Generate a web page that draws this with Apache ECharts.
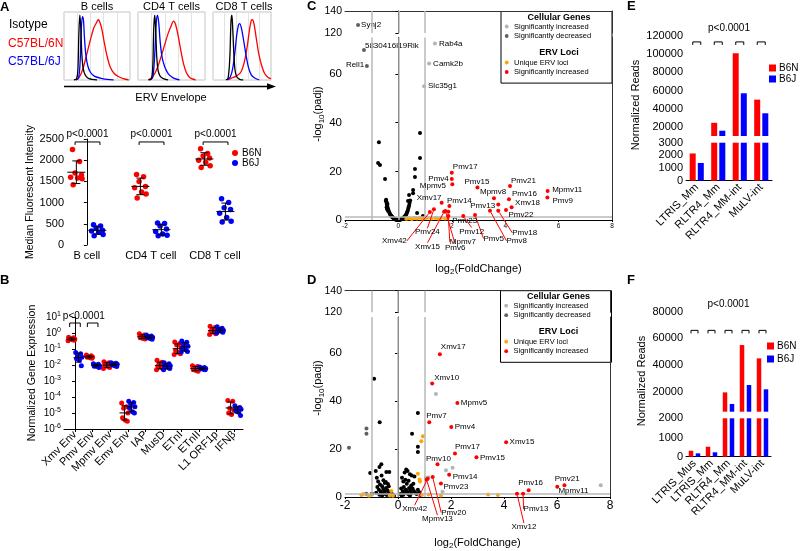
<!DOCTYPE html>
<html><head><meta charset="utf-8">
<script src="https://cdn.jsdelivr.net/npm/echarts@6/dist/echarts.min.js"></script>
<style>html,body{margin:0;padding:0;background:#fff}#c{width:800px;height:551px}</style>
</head><body><div id="c"></div><script>
// ================= DATA =================
const HIST_TITLES = ['B cells', 'CD4 T cells', 'CD8 T cells'];
const HIST_ISOTYPE = [
  [[15,0],[19,2],[21,15],[22.5,70],[24,100],[25.5,80],[27,40],[29,18],[32,8],[36,3],[42,1],[50,0]],
  [[16,0],[20,2],[22,20],[23.5,80],[25,100],[26.5,75],[28,35],[30,15],[33,6],[38,2],[45,0]],
  [[22,0],[26,3],[29,35],[31,90],[32.5,100],[34,80],[36,40],[38,15],[41,5],[46,1],[52,0]]
];
const HIST_B6J = [
  [[18,0],[22,3],[24.5,30],[26,75],[28,98],[29.5,92],[31,65],[33,40],[36,22],[40,12],[46,6],[55,3],[65,1],[75,0]],
  [[18,0],[22,4],[25,40],[27,85],[29,100],[31,88],[33,60],[36,35],[40,20],[45,10],[50,5],[55,2],[62,0]],
  [[25,0],[30,5],[34,18],[38,45],[41,70],[44,85],[46,87],[49,80],[53,60],[57,38],[61,20],[66,8],[72,3],[80,0]]
];
const HIST_B6N = [
  [[18,0],[22,3],[26,10],[30,22],[35,42],[40,62],[45,80],[49,88],[52,93],[54,90],[57,80],[61,58],[65,38],[70,20],[76,10],[83,5],[90,2],[98,0]],
  [[15,0],[20,3],[25,10],[30,22],[35,38],[40,55],[45,72],[50,85],[53,91],[56,86],[60,68],[64,45],[68,25],[72,12],[76,5],[80,2],[86,0]],
  [[25,0],[32,3],[40,6],[48,12],[54,28],[59,52],[63,78],[66,92],[68,93],[71,85],[75,62],[79,40],[84,22],[89,10],[95,4],[100,2]]
];

const A_CATS = ['B cell', 'CD4 T cell', 'CD8 T cell'];
const A_B6N = [[2250,1970,1700,1650,1600,1580,1560,1420],[1660,1610,1500,1380,1350,1250,1200,1110],[2270,2160,2100,2050,2000,1950,1870,1830]];
const A_B6J = [[480,450,400,350,330,300,250,220],[520,510,450,380,320,260,230,220],[1090,1000,880,840,750,650,560,540]];

const B_CATS = ['Xmv Env','Pmv Env','Mpmv Env','Emv Env','IAP','MusD','ETnI','ETnII','L1 ORF1p','IFNβ'];
const B_B6N = [
  [0.55,0.5,0.45,0.42,0.4,0.38,0.35,0.33],
  [0.042,0.038,0.035,0.032,0.03,0.028,0.026],
  [0.016,0.014,0.012,0.011,0.009,0.008,0.007,0.006],
  [4.2e-5,2.5e-5,2e-5,1e-5,5e-6,3.5e-6,3e-6],
  [0.9,0.75,0.65,0.55,0.5,0.45,0.42],
  [0.02,0.015,0.012,0.01,0.008,0.007,0.006,0.005],
  [0.27,0.22,0.18,0.12,0.08,0.06,0.05,0.045],
  [0.009,0.008,0.007,0.006,0.005,0.0045,0.004],
  [2.6,2.2,1.8,1.5,1.3,1.1,0.9,0.8],
  [6e-5,5.5e-5,2e-5,1.5e-5,1e-5,8e-6]
];
const B_B6J = [
  [0.06,0.05,0.04,0.03,0.025,0.02,0.009],
  [0.012,0.011,0.01,0.009,0.0085,0.008,0.007],
  [0.014,0.013,0.012,0.011,0.01,0.009,0.008],
  [5.5e-5,4.5e-5,3.5e-5,2.5e-5,2e-5,1.2e-5,1e-5],
  [0.75,0.65,0.6,0.55,0.5,0.45,0.4],
  [0.014,0.012,0.01,0.009,0.008,0.007,0.006,0.005],
  [0.32,0.26,0.2,0.15,0.12,0.09,0.07,0.065],
  [0.0075,0.007,0.0065,0.006,0.0058,0.0055,0.005],
  [2.5,2.0,1.7,1.5,1.4,1.3,1.1,1.0],
  [2.8e-5,2.2e-5,2e-5,1.7e-5,1.4e-5,1.1e-5,7e-6]
];
const B_TICKS = [1e-6,1e-5,1e-4,1e-3,1e-2,1e-1,1,10];

const C_NS = [
 [-0.47,7.9],[-0.46,8.3],[-0.45,7.6],[-0.44,7.0],[-0.44,5.2],[-0.43,6.4],[-0.43,4.5],[-0.42,5.8],[-0.41,5.3],[-0.41,6.6],[-0.40,4.8],[-0.39,3.8],[-0.38,4.2],[-0.36,3.6],[-0.34,3.1],[-0.32,2.6],[-0.30,2.2],[-0.28,1.9],[-0.26,1.6],[-0.24,1.3],[-0.22,1.1],[-0.20,0.9],[-0.18,0.7],[-0.16,0.55],[-0.14,0.42],[-0.12,0.3],[-0.10,0.22],[-0.08,0.15],[-0.06,0.09],[-0.04,0.05],[-0.02,0.02],[0.00,0.01],
 [0.02,0.02],[0.04,0.06],[0.06,0.11],[0.08,0.18],[0.10,0.26],[0.12,0.36],[0.14,0.48],[0.16,0.62],[0.18,0.78],[0.20,0.98],[0.22,1.2],[0.24,1.45],[0.26,1.75],[0.28,2.1],[0.30,2.5],[0.32,3.0],[0.34,3.6],[0.36,4.3],[0.38,5.1],[0.40,6.0],[0.42,7.0],[0.44,8.0],
 [0.81,35.8],[0.81,25.5],[-0.73,32.0],[-0.76,23.4],[-0.69,22.6],[-0.50,16.8],[0.62,21.0],[0.62,17.7],[0.55,12.3],[0.55,11.0],[0.40,10.3],[0.36,7.8],[0.70,2.9],[0.92,1.6]
];
const C_DEC = [['Synj2',-1.51,127.3],['5830416I19Rik',-1.29,69.9],['Rell1',-1.18,63.3]];
const C_INC = [['Rab4a',1.37,72.5],['Camk2b',1.15,64.3],['Slc35g1',0.96,55.0]];
const C_UNIQUE = [[0.3,0.5],[0.4,0.7],[0.5,0.4],[0.6,0.8],[0.7,0.6],[0.8,0.9],[0.9,0.5],[1.0,0.7],[1.1,0.9],[1.25,0.6],[1.4,0.8],[1.5,0.5],[1.6,0.9],[1.75,0.6],[1.85,0.8]];
const C_SIG = [['Pmv17',2.0,19.4],['Pmv4',2.0,16.8],['Mpmv5',2.02,14.7],['Pmv15',2.96,13.4],['Mpmv8',3.58,8.9],['Pmv21',4.18,14.0],['Pmv16',4.14,8.5],['Xmv18',4.24,5.2],['Pmv22',4.03,4.1],['Mpmv11',5.59,11.9],['Pmv9',5.58,9.2],['Pmv13',3.74,6.4],['Pmv18',3.74,3.8],['Pmv8',3.43,3.8],['Pmv5',2.87,2.05],['Pmv12',2.43,1.6],['Pmv23',1.87,3.4],['Pmv14',1.91,5.75],['Xmv17',1.62,7.1],['Xmv42',1.18,3.3],['Pmv24',1.33,4.4],['Xmv15',1.71,3.4],['Pmv6',1.76,3.7],['Mpmv7',1.87,1.6]];

const D_NS = [
 [-1.05,10.0],[-0.84,10.8],[-0.70,12.5],[-0.63,13.6],[-0.62,9.0],[-0.44,10.4],[-0.33,10.4],[-0.80,8.0],[-0.78,4.2],[-0.75,6.5],[-0.72,3.0],[-0.68,5.2],[-0.65,2.2],[-0.60,4.5],[-0.58,1.5],[-0.56,3.3],[-0.55,7.0],[-0.52,2.5],[-0.50,5.8],[-0.48,1.2],[-0.46,6.2],[-0.45,3.8],[-0.42,0.8],[-0.40,2.8],[-0.38,5.4],[-0.36,1.8],[-0.35,4.5],[-0.30,2.0],[-0.28,0.6],[-0.25,1.5],[-0.20,1.0],[-0.15,0.4],[-0.82,1.8],[-0.70,0.9],[-0.60,0.5],[-0.98,1.4],
 [0.10,1.2],[0.12,3.5],[0.14,0.6],[0.15,8.0],[0.18,2.5],[0.20,6.5],[0.20,0.9],[0.22,4.2],[0.25,10.2],[0.26,1.8],[0.28,7.2],[0.30,3.0],[0.31,11.5],[0.33,5.5],[0.35,2.2],[0.36,10.8],[0.38,1.2],[0.40,6.8],[0.42,3.8],[0.45,9.5],[0.45,0.5],[0.46,2.6],[0.50,4.8],[0.50,1.5],[0.52,9.0],[0.55,3.5],[0.58,5.5],[0.60,2.5],[0.62,8.5],[0.65,1.8],[0.70,1.2],[0.75,3.0],[0.80,2.0],[0.85,0.8],
 [-0.90,49.3],[0.75,35.0],[-0.69,31.1],[0.53,26.4],[0.75,20.9],[0.75,18.8]
];
const D_DEC = [[-1.19,28.5],[-1.19,26.4],[-1.85,20.5],[-1.19,1.4]];
const D_INC = [[1.43,42.9],[1.81,11.1],[2.06,12.2],[1.68,2.2],[7.65,4.9],[1.05,8.0],[1.15,8.2]];
const D_UNIQUE = [[0.94,25.3],[0.88,23.2],[0.75,9.7],[0.81,7.3],[0.83,6.5],[-0.25,2.5],[-1.38,0.8],[-1.31,1.2],[-1.10,0.5],[-0.31,0.6],[-0.19,0.5],[1.62,0.6],[3.40,1.0],[3.77,0.8],[1.15,1.0],[0.9,0.8]];
const D_SIG = [['Xmv17',1.58,59.5],['Xmv10',1.29,47.3],['Mpmv5',2.24,39.2],['Pmv7',1.18,31.1],['Pmv4',2.01,29.2],['Xmv15',4.08,22.8],['Pmv17',2.15,18.1],['Pmv15',2.96,16.6],['Pmv10',1.49,13.6],['Pmv14',1.93,9.3],['Pmv23',1.62,5.6],['Xmv42',1.12,7.6],['Mpmv13',1.08,7.2],['Pmv20',1.31,8.3],['Xmv12',4.49,1.4],['Pmv13',4.72,1.4],['Pmv16',4.93,2.8],['Pmv21',6.01,4.3],['Mpmv11',6.28,4.9]];

const VOLC_Y_LOW_TICKS = [0,20,40,60];
const VOLC_Y_HIGH_TICKS = [120,140];
const VOLC_GUIDES_X = [-1,0,1];
const VOLC_GUIDE_Y = 1.3;

const E_CATS = ['LTRIS_Mm','RLTR4_Mm','RLTR4_MM-int','MuLV-int'];
const E_B6N = [2150, 24500, 101000, 50000];
const E_B6J = [1400, 15800, 57000, 35000];
const E_TICKS_HIGH = [20000,40000,60000,80000,100000,120000];
const E_TICKS_LOW = [0,1000,2000,3000];

const F_CATS = ['LTRIS_Mus','LTRIS_Mm','RLTR4_Mm','RLTR4_MM-int','MuLV-int'];
const F_B6N = [310, 520, 19500, 55000, 45000];
const F_B6J = [175, 230, 10800, 25000, 21800];
const F_TICKS_HIGH = [20000,40000,60000,80000];
const F_TICKS_LOW = [0,1000,2000];

const P_TEXT = 'p<0.0001';

// ================= STYLE / LAYOUT =================
const FONT = '"Liberation Sans", Arial, Helvetica, sans-serif';
const RED = '#ff0000', BLUE = '#0000ff', ORANGE = '#ffa500', LGRAY = '#b4b4b4', DGRAY = '#606060';
const A_JITTER = [-0.06,0.05,-0.02,0.08,-0.09,0.02,0.09,-0.05];
const B_JITTER = [-0.16,0.12,-0.05,0.19,-0.11,0.05,0.16,-0.19];

const C_LABEL_OFFSET = {
 'Synj2':[3,0],'5830416I19Rik':[1,-4],'Rell1':[-21,-1],'Rab4a':[4,0],'Camk2b':[4,0],'Slc35g1':[4,0],
 'Pmv17':[1,-5.5],'Pmv4':[-23.5,0],'Mpmv5':[-32.5,1.5],'Pmv15':[-13,-6],'Mpmv8':[-14,-6.5],'Pmv21':[1,-5.5],'Pmv16':[3,-6],'Xmv18':[3.5,-5],'Pmv22':[2.5,5],'Mpmv11':[4.5,-1.5],'Pmv9':[5,3],'Pmv13':[-28,1.5],'Pmv14':[-2.5,-5.5],'Xmv17':[-25,-5],'Pmv23':[4,9],
 'Pmv18':[14,22],'Pmv8':[16.5,30],'Pmv5':[8.5,23.5],'Pmv12':[-4,15.5],'Xmv42':[-48,29],'Pmv24':[-19,23],'Xmv15':[-29,35],'Pmv6':[-0.5,37],'Mpmv7':[1.5,26]
};
const C_LEADERS = ['Pmv18','Pmv8','Pmv5','Pmv12','Xmv42','Pmv24','Xmv15','Pmv6','Mpmv7'];
const D_LABEL_OFFSET = {
 'Xmv17':[1,-7],'Xmv10':[2,-5.5],'Mpmv5':[3.5,0],'Pmv7':[-3,-7],'Pmv4':[3.5,0],'Xmv15':[3.5,0],'Pmv17':[0,-6.5],'Pmv15':[3.5,0.5],'Pmv10':[-11.5,-5.5],'Pmv14':[3.5,2],'Pmv23':[2.5,3.5],'Pmv16':[-10.5,-7],'Pmv21':[-2.5,-8],'Mpmv11':[-6,6],
 'Xmv42':[-25.5,30.5],'Mpmv13':[-4.5,39.5],'Pmv20':[8.5,35.5],'Xmv12':[-5.5,33.5],'Pmv13':[0.5,15.5]
};
const D_LEADERS = ['Xmv42','Mpmv13','Pmv20','Xmv12','Pmv13'];

const grids = [], xAxes = [], yAxes = [], series = [];
const addGrid = g => (grids.push(g), grids.length - 1);
const addX = a => (xAxes.push(a), xAxes.length - 1);
const addY = a => (yAxes.push(a), yAxes.length - 1);
const BLK = {lineStyle:{color:'#000', width:1}};
const NOSPLIT = {show:false};
const numFmt = v => String(v);

// ---------- Panel A histograms ----------
const HIST_BOX = [[64,66],[138,67],[213,58]];
HIST_TITLES.forEach((t, i) => {
  const g = addGrid({left:HIST_BOX[i][0], top:12, width:HIST_BOX[i][1], height:68, show:true, borderColor:'#c4c4c4', borderWidth:1, backgroundColor:'transparent'});
  const xa = addX({type:'value', gridIndex:g, min:0, max:100, interval:20, axisLine:{show:false}, axisTick:{show:false}, axisLabel:{show:false}, splitLine:{show:true, lineStyle:{color:'#e2e2e2', width:1}}});
  const ya = addY({type:'value', gridIndex:g, min:0, max:105, axisLine:{show:false}, axisTick:{show:false}, axisLabel:{show:false}, splitLine:NOSPLIT});
  [[HIST_B6N[i], RED], [HIST_B6J[i], BLUE], [HIST_ISOTYPE[i], '#000']].forEach(([d, c]) => {
    series.push({type:'line', xAxisIndex:xa, yAxisIndex:ya, data:d, smooth:0.35, symbol:'none', silent:true, lineStyle:{color:c, width:1.3}});
  });
});

// ---------- Panel A MFI ----------
const gA = addGrid({left:67, top:139, width:178, height:106});
const xA = addX({type:'value', gridIndex:gA, min:-0.31, max:2.47, axisLine:{show:false}, axisTick:{show:false}, splitLine:NOSPLIT,
  axisLabel:{customValues:A_CATS.map((c,i)=>i), formatter:v=>A_CATS[Math.round(v)], fontSize:11, color:'#000', margin:5}});
const yA = addY({type:'value', gridIndex:gA, min:0, max:2500, interval:500, axisLine:BLK, axisTick:{length:3, lineStyle:{color:'#000'}}, splitLine:NOSPLIT,
  axisLabel:{fontSize:11, color:'#000', margin:3, formatter:numFmt},
  name:'Median Fluorescent Intensity', nameLocation:'middle', nameGap:30, nameTextStyle:{fontSize:10.5, color:'#000'}});
const A_OFF = 0.164;
function meanSd(arr){ const m = arr.reduce((a,b)=>a+b,0)/arr.length; const s = Math.sqrt(arr.reduce((a,b)=>a+(b-m)*(b-m),0)/(arr.length-1)); return [m,s]; }
function errRender(mw, cw){
  return (p, api) => {
    const x = api.value(0), m = api.value(1), lo = api.value(2), hi = api.value(3);
    const pm = api.coord([x,m]), pl = api.coord([x,lo]), ph = api.coord([x,hi]);
    const ln = (x1,y1,x2,y2) => ({type:'line', shape:{x1,y1,x2,y2}, style:{stroke:'#000', lineWidth:1}});
    return {type:'group', children:[ln(pm[0]-mw,pm[1],pm[0]+mw,pm[1]), ln(pl[0],pl[1],ph[0],ph[1]), ln(pl[0]-cw,pl[1],pl[0]+cw,pl[1]), ln(ph[0]-cw,ph[1],ph[0]+cw,ph[1])]};
  };
}
[[A_B6N, RED, -A_OFF, 'B6N'], [A_B6J, BLUE, A_OFF, 'B6J']].forEach(([groups, col, off, nm]) => {
  const pts = [], errs = [];
  groups.forEach((arr, ci) => {
    arr.forEach((v, j) => pts.push([ci + off + A_JITTER[j % A_JITTER.length], v]));
    const [m, s] = meanSd(arr); errs.push([ci + off, m, m - s, m + s]);
  });
  series.push({type:'scatter', name:nm, xAxisIndex:xA, yAxisIndex:yA, data:pts, symbolSize:5.5, itemStyle:{color:col, opacity:1}, silent:true, z:2});
  series.push({type:'custom', xAxisIndex:xA, yAxisIndex:yA, data:errs, encode:{x:0, y:1}, renderItem:errRender(9,4), silent:true, z:3});
});
const A_BRACKET_Y = 2430;
series.push({type:'custom', xAxisIndex:xA, yAxisIndex:yA, silent:true, z:4, clip:false, data:A_CATS.map((c,i)=>[i, A_BRACKET_Y]), encode:{x:0,y:1},
  renderItem:(p, api) => {
    const i = api.value(0), y = api.value(1);
    const l = api.coord([i - A_OFF - 0.02, y]), r = api.coord([i + A_OFF + 0.04, y]);
    return {type:'group', children:[
      {type:'polyline', shape:{points:[[l[0],l[1]+3],[l[0],l[1]],[r[0],r[1]],[r[0],r[1]+3]]}, style:{stroke:'#000', lineWidth:1, fill:null}},
      {type:'text', x:(l[0]+r[0])/2, y:l[1]-3, style:{text:P_TEXT, fontSize:10, fontFamily:FONT, fill:'#000', align:'center', verticalAlign:'bottom'}}
    ]};
  }});

// ---------- Panel B ----------
const gB = addGrid({left:64, top:317, width:179, height:112});
const xB = addX({type:'value', gridIndex:gB, min:-0.62, max:9.5, axisLine:BLK, splitLine:NOSPLIT,
  axisTick:{customValues:B_CATS.map((c,i)=>i), length:3, lineStyle:{color:'#000'}},
  axisLabel:{customValues:B_CATS.map((c,i)=>i), formatter:v=>B_CATS[Math.round(v)], rotate:45, fontSize:11, color:'#000', margin:4}});
const yB = addY({type:'log', gridIndex:gB, logBase:10, min:1e-6, max:10, axisLine:BLK, splitLine:NOSPLIT,
  axisTick:{customValues:B_TICKS, length:3, lineStyle:{color:'#000'}},
  axisLabel:{customValues:B_TICKS, fontSize:10, color:'#000', margin:3, formatter:v=>'10{s|' + Math.round(Math.log10(v)) + '}', rich:{s:{fontSize:7, padding:[0,0,6,0]}}},
  minorTick:{show:false},
  name:'Normalized Gene Expression', nameLocation:'middle', nameGap:26, nameTextStyle:{fontSize:10.5, color:'#000'}});
const B_OFF = 0.2;
[[B_B6N, RED, -B_OFF], [B_B6J, BLUE, B_OFF]].forEach(([groups, col, off]) => {
  const pts = [], errs = [];
  groups.forEach((arr, ci) => {
    arr.forEach((v, j) => pts.push([ci + off + B_JITTER[j % B_JITTER.length], v]));
    const [m, s] = meanSd(arr.map(Math.log10)); errs.push([ci + off, Math.pow(10,m), Math.pow(10,m-s), Math.pow(10,m+s)]);
  });
  series.push({type:'scatter', xAxisIndex:xB, yAxisIndex:yB, data:pts, symbolSize:5, itemStyle:{color:col, opacity:1}, silent:true, z:2});
  series.push({type:'custom', xAxisIndex:xB, yAxisIndex:yB, data:errs, encode:{x:0, y:1}, renderItem:errRender(5,3), silent:true, z:3});
});
const B_BRACKET_Y = 4.2, B_BRACKET_CATS = [0,1];
series.push({type:'custom', xAxisIndex:xB, yAxisIndex:yB, silent:true, z:4, clip:false, data:B_BRACKET_CATS.map(i=>[i, B_BRACKET_Y]), encode:{x:0,y:1},
  renderItem:(p, api) => {
    const i = api.value(0), y = api.value(1);
    const l = api.coord([i - 0.3, y]), r = api.coord([i + 0.3, y]);
    const kids = [{type:'polyline', shape:{points:[[l[0],l[1]+4],[l[0],l[1]],[r[0],r[1]],[r[0],r[1]+4]]}, style:{stroke:'#000', lineWidth:1, fill:null}}];
    if (p.dataIndex === 0) {
      const r2 = api.coord([B_BRACKET_CATS[1], y]);
      kids.push({type:'text', x:(api.coord([i,y])[0] + r2[0])/2, y:l[1]-2, style:{text:P_TEXT, fontSize:10, fontFamily:FONT, fill:'#000', align:'center', verticalAlign:'bottom'}});
    }
    return {type:'group', children:kids};
  }});

// ---------- Panels C & D (volcano, broken y axis) ----------
function makeVolcano(cfg){
  const gT = addGrid({left:cfg.left, top:cfg.topT, width:cfg.width, height:cfg.hT});
  const gL = addGrid({left:cfg.left, top:cfg.topL, width:cfg.width, height:cfg.hL});
  const xT = addX({type:'value', gridIndex:gT, min:-2, max:8, position:'top', axisLine:{lineStyle:{color:'#333', width:1}}, axisTick:{show:false}, axisLabel:{show:false}, splitLine:NOSPLIT});
  const yT = addY({type:'value', gridIndex:gT, min:120, max:140, axisLine:BLK, splitLine:NOSPLIT,
    axisTick:{customValues:VOLC_Y_HIGH_TICKS, length:3, lineStyle:{color:'#000'}},
    axisLabel:{customValues:VOLC_Y_HIGH_TICKS, fontSize:10.5, color:'#000', margin:3, formatter:numFmt}});
  addY({type:'value', gridIndex:gT, min:120, max:140, position:'right', axisLine:{lineStyle:{color:'#333', width:1}}, axisTick:{show:false}, axisLabel:{show:false}, splitLine:NOSPLIT});
  const xL = addX({type:'value', gridIndex:gL, min:-2, max:8, interval:2, axisLine:BLK, splitLine:NOSPLIT,
    axisTick:{length:2, lineStyle:{color:'#000'}},
    axisLabel:{fontSize:cfg.xFont, color:'#000', margin:3, formatter:numFmt},
    name:'log{s|2}(FoldChange)', nameLocation:'middle', nameGap:cfg.xNameGap,
    nameTextStyle:{fontSize:11, color:'#000', rich:{s:{fontSize:8, padding:[7,0,0,0]}}}});
  const yL = addY({type:'value', gridIndex:gL, min:0, max:75, axisLine:BLK, splitLine:NOSPLIT,
    axisTick:{customValues:VOLC_Y_LOW_TICKS, length:3, lineStyle:{color:'#000'}},
    axisLabel:{customValues:VOLC_Y_LOW_TICKS, fontSize:11.5, color:'#000', margin:3, formatter:numFmt}});
  addY({type:'value', gridIndex:gL, min:0, max:75, position:'right', axisLine:{lineStyle:{color:'#333', width:1}}, axisTick:{show:false}, axisLabel:{show:false}, splitLine:NOSPLIT});
  const guideStyle = {color:'#b9b9b9', width:1.5, type:'solid'};
  series.push({type:'scatter', xAxisIndex:xT, yAxisIndex:yT, data:[], silent:true, z:1,
    markLine:{silent:true, symbol:'none', label:{show:false}, lineStyle:guideStyle, animation:false, data:VOLC_GUIDES_X.map(v=>({xAxis:v}))}});
  series.push({type:'scatter', xAxisIndex:xL, yAxisIndex:yL, data:[], silent:true, z:1,
    markLine:{silent:true, symbol:'none', label:{show:false}, lineStyle:guideStyle, animation:false, data:VOLC_GUIDES_X.map(v=>({xAxis:v})).concat([{yAxis:VOLC_GUIDE_Y}])}});
  return {top:[xT,yT], low:[xL,yL], split:100};
}
function toItems(list){ return list.map(it => typeof it[0] === 'string' ? {name:it[0], value:[it[1], it[2]]} : {name:'', value:[it[0], it[1]]}); }
function addLayer(V, list, color, size, z, offsets, leaders){
  const all = toItems(list);
  [[all.filter(d => d.value[1] >= V.split), V.top], [all.filter(d => d.value[1] < V.split), V.low]].forEach(([items, ax]) => {
    const mk = (its, lead) => {
      if (!its.length) return;
      const s = {type:'scatter', xAxisIndex:ax[0], yAxisIndex:ax[1], symbolSize:size, z, silent:true, itemStyle:{color, opacity:1}, data:its};
      if (offsets) {
        s.label = {show:true, position:'right', distance:2, formatter:'{b}', fontSize:8, color:'#000', fontFamily:FONT};
        s.labelLayout = p => { const o = offsets[its[p.dataIndex].name] || [4,0]; return {dx:o[0] - size/2 - 2, dy:o[1]}; };
        s.labelLine = {show:lead, lineStyle:{color:RED, width:1}};
      }
      series.push(s);
    };
    if (offsets && leaders) { mk(items.filter(d => !leaders.includes(d.name)), false); mk(items.filter(d => leaders.includes(d.name)), true); }
    else mk(items, false);
  });
}
const VC = makeVolcano({left:345, width:267, topT:11, hT:22, topL:37.5, hL:182.5, xFont:6.5, xNameGap:41});
addLayer(VC, C_NS, '#000', 4, 2);
addLayer(VC, C_DEC, DGRAY, 4, 3, C_LABEL_OFFSET);
addLayer(VC, C_INC, LGRAY, 4, 3, C_LABEL_OFFSET);
addLayer(VC, C_UNIQUE, ORANGE, 4, 4);
addLayer(VC, C_SIG, RED, 4, 5, C_LABEL_OFFSET, C_LEADERS);
const VD = makeVolcano({left:345, width:265, topT:290.7, hT:21.6, topL:317, hL:180.7, xFont:12, xNameGap:38});
addLayer(VD, D_NS, '#000', 4, 2);
addLayer(VD, D_DEC, DGRAY, 4, 3);
addLayer(VD, D_INC, LGRAY, 4, 3);
addLayer(VD, D_UNIQUE, ORANGE, 4, 4);
addLayer(VD, D_SIG, RED, 4, 5, D_LABEL_OFFSET, D_LEADERS);

// ---------- Panels E & F (broken bar charts) ----------
function makeBroken(cfg){
  const gT = addGrid({left:cfg.left, top:cfg.topT, width:cfg.width, height:cfg.hT});
  const gL = addGrid({left:cfg.left, top:cfg.topL, width:cfg.width, height:cfg.hL});
  const xT = addX({type:'category', gridIndex:gT, data:cfg.cats, show:false});
  const yT = addY({type:'value', gridIndex:gT, min:cfg.minT, max:cfg.maxT, startValue:cfg.minT, axisLine:BLK, splitLine:NOSPLIT,
    axisTick:{customValues:cfg.ticksT, length:3, lineStyle:{color:'#000'}},
    axisLabel:{customValues:cfg.ticksT, fontSize:11, color:'#000', margin:3, formatter:numFmt}});
  const xL = addX({type:'category', gridIndex:gL, data:cfg.cats, axisLine:BLK,
    axisTick:{alignWithLabel:true, length:3, lineStyle:{color:'#000'}},
    axisLabel:{interval:0, rotate:45, fontSize:11, color:'#000', margin:5}});
  const yL = addY({type:'value', gridIndex:gL, min:0, max:cfg.maxL, axisLine:BLK, splitLine:NOSPLIT,
    axisTick:{customValues:cfg.ticksL, length:3, lineStyle:{color:'#000'}},
    axisLabel:{customValues:cfg.ticksL, fontSize:11, color:'#000', margin:3, formatter:numFmt}});
  [[xT,yT],[xL,yL]].forEach(([xa,ya]) => {
    series.push({type:'bar', name:'B6N', xAxisIndex:xa, yAxisIndex:ya, data:cfg.b6n, barWidth:cfg.bw, barGap:cfg.gap, itemStyle:{color:RED}, clip:true, silent:true});
    series.push({type:'bar', name:'B6J', xAxisIndex:xa, yAxisIndex:ya, data:cfg.b6j, barWidth:cfg.bw, barGap:cfg.gap, itemStyle:{color:BLUE}, clip:true, silent:true});
  });
  const half = cfg.half;
  series.push({type:'custom', xAxisIndex:xT, yAxisIndex:yT, silent:true, z:5, clip:false, data:cfg.cats.map((c,i)=>[i, cfg.bracketY]), encode:{x:0,y:1},
    renderItem:(p, api) => { const c = api.coord([api.value(0), api.value(1)]);
      return {type:'polyline', shape:{points:[[c[0]-half,c[1]+3],[c[0]-half,c[1]],[c[0]+half,c[1]],[c[0]+half,c[1]+3]]}, style:{stroke:'#000', lineWidth:1, fill:null}}; }});
  series.push({type:'custom', xAxisIndex:xT, yAxisIndex:yT, silent:true, z:5, clip:false, data:[[cfg.pCats[0], cfg.pY]], encode:{x:0,y:1},
    renderItem:(p, api) => { const a = api.coord([cfg.pCats[0], api.value(1)]), b = api.coord([cfg.pCats[1], api.value(1)]);
      return {type:'text', x:(a[0]+b[0])/2, y:a[1], style:{text:P_TEXT, fontSize:10, fontFamily:FONT, fill:'#000', align:'center', verticalAlign:'middle'}}; }});
}
makeBroken({left:686, width:86, topT:36, hT:100, topL:142.7, hL:38, cats:E_CATS, b6n:E_B6N, b6j:E_B6J, minT:10000, maxT:120000, ticksT:E_TICKS_HIGH, maxL:3000, ticksL:E_TICKS_LOW, bw:6, gap:'35%', half:4, bracketY:113500, pCats:[1,2], pY:128500});
makeBroken({left:686, width:85, topT:311.7, hT:100, topL:418.3, hL:38.4, cats:F_CATS, b6n:F_B6N, b6j:F_B6J, minT:5000, maxT:80000, ticksT:F_TICKS_HIGH, maxL:2000, ticksL:F_TICKS_LOW, bw:4.5, gap:'55%', half:3.5, bracketY:66000, pCats:[2,2], pY:85800});

// ---------- legends ----------
const legends = [
  {data:['B6N','B6J'], left:232, top:148, orient:'vertical', icon:'circle', itemWidth:6, itemHeight:6, itemGap:0, padding:0, selectedMode:false, textStyle:{fontSize:10, color:'#000', lineHeight:9, padding:[0,0,0,-1]}},
  {data:['B6N','B6J'], left:769, top:63, orient:'vertical', icon:'rect', itemWidth:7, itemHeight:7, itemGap:1, padding:0, selectedMode:false, textStyle:{fontSize:10, color:'#000', padding:[0,0,0,-2]}},
  {data:['B6N','B6J'], left:767, top:341, orient:'vertical', icon:'rect', itemWidth:7, itemHeight:7, itemGap:3, padding:0, selectedMode:false, textStyle:{fontSize:10, color:'#000', padding:[0,0,0,-2]}}
];

// ---------- free text / decorations ----------
function txt(text, x, y, size, color, align, weight, rot){
  return {type:'text', x, y, rotation:rot || 0, silent:true, style:{text, fontSize:size, fontFamily:FONT, fontWeight:weight || 'normal', fill:color, align:align, verticalAlign:'middle',
    rich:{s:{fontSize:8, padding:[7,0,0,0]}}}};
}
function volcanoLegend(x, y){
  const row = (cy, col, label) => [
    {type:'circle', shape:{cx:5.7, cy, r:1.9}, style:{fill:col}},
    {type:'text', x:13, y:cy, style:{text:label, fontSize:7.5, fontFamily:FONT, fill:'#000', align:'left', verticalAlign:'middle'}}
  ];
  return {type:'group', x, y, silent:true, children:[
    {type:'rect', shape:{x:0, y:0, width:111, height:71.6}, style:{fill:'#fff', stroke:'#000', lineWidth:1}},
    {type:'text', x:58, y:6, style:{text:'Cellular Genes', fontSize:9, fontWeight:'bold', fontFamily:FONT, fill:'#000', align:'center', verticalAlign:'middle'}},
    ...row(15, LGRAY, 'Significantly increased'),
    ...row(24.5, DGRAY, 'Significantly decreased'),
    {type:'text', x:58, y:41, style:{text:'ERV Loci', fontSize:9, fontWeight:'bold', fontFamily:FONT, fill:'#000', align:'center', verticalAlign:'middle'}},
    ...row(51, ORANGE, 'Unique ERV loci'),
    ...row(60.5, RED, 'Significantly increased')
  ]};
}
const graphics = [
  txt('A', 0, 7.5, 13, '#000', 'left', 'bold'),
  txt('B', 0, 280, 13, '#000', 'left', 'bold'),
  txt('C', 307, 6, 13, '#000', 'left', 'bold'),
  txt('D', 307, 280, 13, '#000', 'left', 'bold'),
  txt('E', 627, 6, 13, '#000', 'left', 'bold'),
  txt('F', 627, 280, 13, '#000', 'left', 'bold'),
  txt('Isotype', 9, 25, 12, '#000', 'left'),
  txt('C57BL/6N', 8, 43.5, 12, RED, 'left'),
  txt('C57BL/6J', 8, 62, 12, BLUE, 'left'),
  ...HIST_TITLES.map((t,i) => txt(t, HIST_BOX[i][0] + HIST_BOX[i][1]/2 + (i===2?2:0), 6.5, 11, '#000', 'center')),
  {type:'line', silent:true, shape:{x1:64, y1:86.5, x2:268, y2:86.5}, style:{stroke:'#000', lineWidth:1.5}},
  {type:'polygon', silent:true, shape:{points:[[276,86.5],[267,83.3],[267,89.7]]}, style:{fill:'#000'}},
  txt('ERV Envelope', 171, 98, 11, '#000', 'center'),
  volcanoLegend(501, 11.5),
  volcanoLegend(500.5, 290.7),
  txt('-log{s|10}(padj)', 318, 114, 11, '#000', 'center', 'normal', Math.PI/2),
  txt('-log{s|10}(padj)', 318, 388, 11, '#000', 'center', 'normal', Math.PI/2),
  txt('Normalized Reads', 636, 105, 11, '#000', 'center', 'normal', Math.PI/2),
  txt('Normalized Reads', 642, 381, 11, '#000', 'center', 'normal', Math.PI/2)
];

const chart = echarts.init(document.getElementById('c'), null, {renderer:'canvas'});
chart.setOption({
  animation:false, backgroundColor:'#fff', textStyle:{fontFamily:FONT},
  grid:grids, xAxis:xAxes, yAxis:yAxes, series, legend:legends, graphic:graphics
});
</script></body></html>
